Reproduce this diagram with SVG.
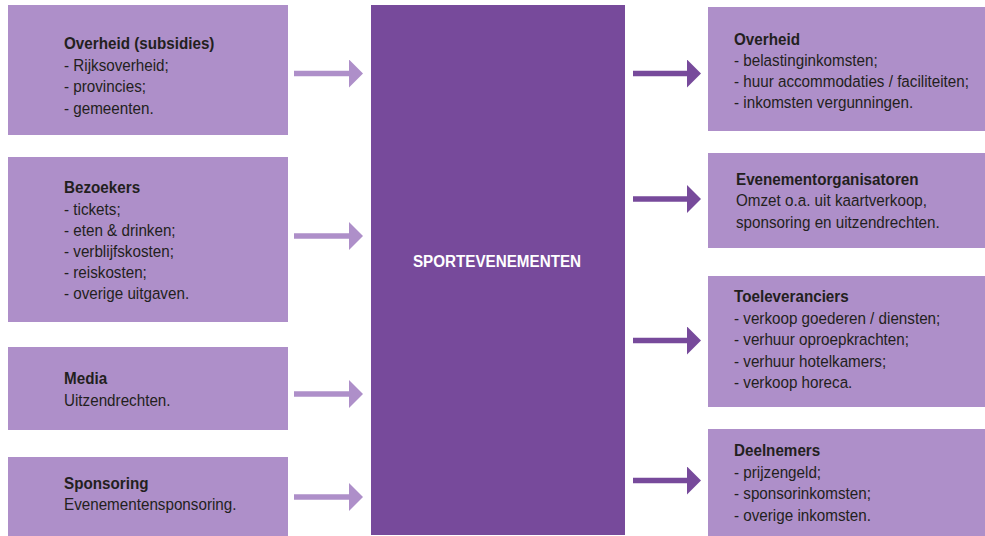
<svg xmlns="http://www.w3.org/2000/svg" width="985" height="536" viewBox="0 0 985 536">
<style>
.box{fill:#ae8fc9}
.center{fill:#774a9b}
.t{font-family:"Liberation Sans",Arial,sans-serif;font-size:17px;fill:#231f20}
.b{font-weight:bold}
.ct{font-family:"Liberation Sans",Arial,sans-serif;font-size:17px;font-weight:bold;fill:#ffffff}
.inL{stroke:#ae8fc9;stroke-width:5.5;fill:none}
.outR{stroke:#774a9b;stroke-width:5.5;fill:none}
</style>
<defs>
<marker id="hL" markerUnits="userSpaceOnUse" viewBox="0 -14 14 28" markerWidth="14" markerHeight="28" refX="1" refY="0" orient="auto"><path d="M0,-14 L14,0 L0,14 Z" fill="#ae8fc9"/></marker>
<marker id="hR" markerUnits="userSpaceOnUse" viewBox="0 -14 14 28" markerWidth="14" markerHeight="28" refX="1" refY="0" orient="auto"><path d="M0,-14 L14,0 L0,14 Z" fill="#774a9b"/></marker>
</defs>
<rect width="985" height="536" fill="#ffffff"/>

<g id="connectors">
<line class="inL" x1="294" y1="73.5" x2="350" y2="73.5" marker-end="url(#hL)"/>
<line class="inL" x1="294" y1="236" x2="350" y2="236" marker-end="url(#hL)"/>
<line class="inL" x1="294" y1="394" x2="350" y2="394" marker-end="url(#hL)"/>
<line class="inL" x1="294" y1="497" x2="350" y2="497" marker-end="url(#hL)"/>
<line class="outR" x1="633" y1="73.5" x2="688" y2="73.5" marker-end="url(#hR)"/>
<line class="outR" x1="633" y1="199" x2="688" y2="199" marker-end="url(#hR)"/>
<line class="outR" x1="633" y1="340.5" x2="688" y2="340.5" marker-end="url(#hR)"/>
<line class="outR" x1="633" y1="480.5" x2="688" y2="480.5" marker-end="url(#hR)"/>
</g>

<g id="overheid-subsidies">
<rect class="box" x="8" y="5" width="280" height="130"/>
<g transform="translate(64 0) scale(0.895 1)">
<text class="t b" x="0" y="49.5">Overheid (subsidies)</text>
<text class="t" x="0" y="71">- Rijksoverheid;</text>
<text class="t" x="0" y="92.5">- provincies;</text>
<text class="t" x="0" y="114">- gemeenten.</text>
</g>
</g>

<g id="bezoekers">
<rect class="box" x="8" y="157" width="280" height="165"/>
<g transform="translate(64 0) scale(0.895 1)">
<text class="t b" x="0" y="193.5">Bezoekers</text>
<text class="t" x="0" y="214.7">- tickets;</text>
<text class="t" x="0" y="235.9">- eten &amp; drinken;</text>
<text class="t" x="0" y="257.1">- verblijfskosten;</text>
<text class="t" x="0" y="278.3">- reiskosten;</text>
<text class="t" x="0" y="299.5">- overige uitgaven.</text>
</g>
</g>

<g id="media">
<rect class="box" x="8" y="347" width="280" height="83"/>
<g transform="translate(64 0) scale(0.895 1)">
<text class="t b" x="0" y="384.5">Media</text>
<text class="t" x="0" y="406">Uitzendrechten.</text>
</g>
</g>

<g id="sponsoring">
<rect class="box" x="8" y="457" width="280" height="79"/>
<g transform="translate(64 0) scale(0.895 1)">
<text class="t b" x="0" y="489">Sponsoring</text>
<text class="t" x="0" y="510.5">Evenementensponsoring.</text>
</g>
</g>

<g id="sportevenementen">
<rect class="center" x="371" y="5" width="254" height="530"/>
<g transform="translate(497 0) scale(0.895 1)">
<text class="ct" x="0" y="267.5" text-anchor="middle">SPORTEVENEMENTEN</text>
</g>
</g>

<g id="overheid">
<rect class="box" x="708" y="7" width="277" height="124"/>
<g transform="translate(734 0) scale(0.895 1)">
<text class="t b" x="0" y="45.5">Overheid</text>
<text class="t" x="0" y="66.5">- belastinginkomsten;</text>
<text class="t" x="0" y="87.5">- huur accommodaties / faciliteiten;</text>
<text class="t" x="0" y="108.5">- inkomsten vergunningen.</text>
</g>
</g>

<g id="evenementorganisatoren">
<rect class="box" x="708" y="153" width="277" height="95"/>
<g transform="translate(736 0) scale(0.895 1)">
<text class="t b" x="0" y="185">Evenementorganisatoren</text>
<text class="t" x="0" y="206.5">Omzet o.a. uit kaartverkoop,</text>
<text class="t" x="0" y="228">sponsoring en uitzendrechten.</text>
</g>
</g>

<g id="toeleveranciers">
<rect class="box" x="708" y="276" width="277" height="131"/>
<g transform="translate(734 0) scale(0.895 1)">
<text class="t b" x="0" y="302.5">Toeleveranciers</text>
<text class="t" x="0" y="324">- verkoop goederen / diensten;</text>
<text class="t" x="0" y="345.5">- verhuur oproepkrachten;</text>
<text class="t" x="0" y="367">- verhuur hotelkamers;</text>
<text class="t" x="0" y="388.5">- verkoop horeca.</text>
</g>
</g>

<g id="deelnemers">
<rect class="box" x="708" y="429" width="277" height="107"/>
<g transform="translate(734 0) scale(0.895 1)">
<text class="t b" x="0" y="456.5">Deelnemers</text>
<text class="t" x="0" y="478">- prijzengeld;</text>
<text class="t" x="0" y="499.5">- sponsorinkomsten;</text>
<text class="t" x="0" y="521">- overige inkomsten.</text>
</g>
</g>
</svg>
